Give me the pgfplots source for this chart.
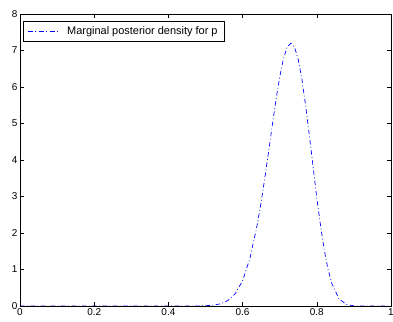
\documentclass[border=0pt]{standalone}
\usepackage{fontspec}
\setmainfont{Liberation Sans}
\usepackage{pgfplots}
\pgfplotsset{compat=1.18}
\definecolor{mblue}{RGB}{0,0,255}
\begin{document}
\begin{tikzpicture}
\useasboundingbox (-20bp,-16bp) rectangle (373bp,306bp);
\begin{axis}[
  at={(0,0)}, anchor=south west,
  scale only axis, width=371bp, height=292bp,
  xmin=0, xmax=1, ymin=0, ymax=8,
  xtick={0,0.2,0.4,0.6,0.8,1},
  xticklabels={0,0.2,0.4,0.6,0.8,1},
  ytick={0,1,2,3,4,5,6,7,8},
  tick align=inside, tick pos=both,
  major tick length=4bp,
  axis line style={line width=0.6pt},
  every tick/.style={black, line width=0.5pt},
  tick label style={font=\fontsize{10}{11}\selectfont},
  /pgf/number format/assume math mode=true,
  xticklabel style={yshift=1bp},
  yticklabel style={xshift=1bp},
  legend style={at={(0.007,0.975)}, anchor=north west, line width=0.6pt,
    font=\fontsize{11}{12}\selectfont, inner xsep=4.5pt, inner ysep=3pt, row sep=0pt,
    legend cell align=left,
    /tikz/every odd column/.append style={column sep=6bp}},
  legend image code/.code={
    \draw[mblue, line width=0.8pt, dash pattern=on 5bp off 2.5bp on 1bp off 2.5bp] (0bp,0bp) -- (31bp,0bp);},
]
\addplot[color=mblue, line width=0.7pt, dash pattern=on 4.5bp off 2.5bp on 0.8bp off 2.5bp] coordinates {
(0,0) (0.1,0) (0.2,0) (0.3,0) (0.4,0) (0.46,0) (0.48,0.002) (0.50,0.007) (0.52,0.021) (0.54,0.059)
(0.56,0.147) (0.58,0.335) (0.60,0.694) (0.62,1.312) (0.64,2.254) (0.65,2.85)
(0.66,3.514) (0.67,4.22) (0.68,4.951) (0.69,5.65) (0.70,6.272) (0.71,6.77) (0.72,7.091)
(0.73,7.2) (0.74,7.093) (0.75,6.75) (0.76,6.204) (0.77,5.48) (0.78,4.669) (0.79,3.82) (0.80,2.961)
(0.81,2.21) (0.82,1.537) (0.83,1.02) (0.84,0.629) (0.86,0.192) (0.88,0.040) (0.90,0.005)
(0.92,0.0004) (0.94,0) (1,0)
};
\addlegendentry{Marginal posterior density for p}
\end{axis}
\end{tikzpicture}
\end{document}
